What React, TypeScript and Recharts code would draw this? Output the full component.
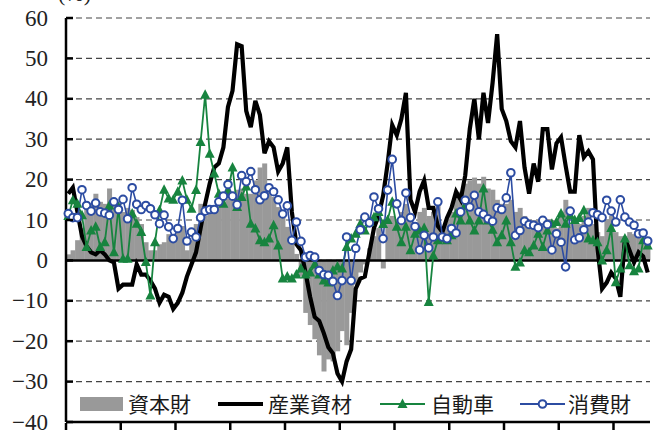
import React from "react";
import {
  ComposedChart,
  Bar,
  Line,
  XAxis,
  YAxis,
  CartesianGrid,
  ReferenceLine,
} from "recharts";

// monthly, 128 points from Jan 07
const yearLabels = ["07", "08", "09", "10", "11", "12", "13", "14", "15", "16", "17"];
const yearTicks = [0, 12, 24, 36, 48, 60, 72, 84, 96, 108, 120];
const yTicks = [-40, -30, -20, -10, 0, 10, 20, 30, 40, 50, 60];

// 資本財
const capitalGoods = [
  1.5, 2.5, 5, 8, 13, 14, 16.5, 14.5, 14, 17.8,
  13.6, 14.5, 12, 13, 12.5, 10.7, 9, 4.5, 2.5, 2.5,
  4, 4.5, 6.5, 6, 8, 8.5, 2.5, 5, 9, 14,
  11, 12.8, 12.8, 14.5, 14.5, 15.3, 16.5, 17.5, 17.8, 16.5,
  16.5, 19.8, 23, 24, 18, 15.7, 13.2, 10.7, 8.3, 5,
  1.6, -4, -13, -16, -19.5, -23.5, -27.5, -24.5, -25, -22.5,
  -17.5, -21, -13, -6, -3, -1, 3, 6, 8, -2,
  9, 11, 10, 12, 14, 10, 9, 12, 13, 11,
  12, 14, 8, 10, 12, 16, 17, 19, 19.8, 20.5,
  19, 20.7, 17.8, 17.5, 15, 14, 14, 15, 12, 13,
  11, 10, 10, 10, 11, 9, 10, 8, 12, 15,
  9, 10, 9, 11, 13, 9, 7, 6, 10, 11,
  7, 6, 6, 7, 6.5, 6, 4, 5,
];

// 産業資材
const industrialMaterials = [
  16.5, 18, 12, 6, 3.5, 2, 1.5, 2.5, 1.5, 0,
  -0.5, -7, -6, -6, -6, -1, -3.5, -3.5, -5, -7,
  -10.5, -8.5, -9, -12, -10.5, -8, -4, -1, 2, 8,
  14, 19, 23, 24, 28, 38, 42, 53.5, 53, 37,
  33, 39.5, 36, 26.5, 29.5, 28, 22, 24, 28, 12,
  4, 2.5, -3, -9, -14, -15, -18, -21.5, -23, -28,
  -30, -25, -22, -7, -4.5, -4, 2, 8, 11, 16,
  24, 33.5, 31, 35, 41.5, 15, 12, 17, 19.8, 13,
  13, 8.5, 7, 10.5, 13, 17, 15, 21, 32.5, 40,
  30, 41.5, 34, 44, 56, 37.5, 34.5, 29.5, 28, 34.5,
  23, 16.5, 24, 19.5, 32.5, 32.5, 22.5, 29, 30.5, 23.5,
  17, 17, 31, 25.5, 27, 25, 3, -7, -5.5, -3,
  -4.5, -9, 5.5, 2.5, -0.5, 2, 1, -3,
];

// 自動車
const automobiles = [
  11, 14.9, 14, 11.2, 3.3, 7.4, 8.3, 3.3, 4.5, 13.6,
  2, 13.2, 0.4, 0.4, 11.6, 9.1, 7, -0.4, -8.7, 4.5,
  12.4, 17.5, 15.3, 15, 17, 19.8, 15, 12.8, 17.4, 29.3,
  41, 26.4, 21.5, 16.5, 14, 17, 23, 13.2, 15.7, 18.3,
  9.1, 7.9, 5, 4.5, 5.4, 8.7, 3.7, -4.5, -4, -4.5,
  -3.5, -2, -3.5, -3, -1, -3.5, -5, -5.5, -2.5, -1.5,
  -2, 3.3, 5.4, 6.6, 9, 7.4, 9.5, 10.7, 12, 9,
  10, 14.5, 8.3, 4.5, 8.3, 2.5, 6.6, 7.4, 8, -10.3,
  1.2, 5, 5.4, 5, 6.2, 11.6, 9.9, 13.6, 9.9, 7.4,
  9.9, 17.8, 9.9, 7.6, 4.5, 6.2, 9.9, 4.5, -1.6, -0.5,
  2.5, 2, 3.7, 6.6, 3.3, 7.4, 9.1, 9.5, 11.6, 9.1,
  11.2, 10, 10.5, 12.4, 5.4, 5, 4.5, 0, 2.5, 8,
  -5.4, -2, 5.4, -1.2, -2.7, -2, 5, 3.7,
];

// 消費財
const consumerGoods = [
  11.6, 10.6, 10.6, 17.5, 13.6, 12.2, 14.2, 12, 11.7, 11.2,
  14.5, 12.6, 15.1, 10.3, 18, 13.9, 12.6, 13.6, 12.8, 11.3,
  9.1, 11.2, 8.3, 5.4, 7.9, 14.9, 4.8, 7, 5.8, 10.6,
  12.2, 12.6, 12.6, 14.5, 15.9, 18.8, 15.9, 13.8, 21, 19.5,
  22, 17.5, 15, 16, 18, 17, 15, 11.5, 13.5, 5,
  9.5, 4.7, 0.8, 1.2, 0.8, -2.5, -3.5, -3.7, -5.2, -8.7,
  -5, 5.8, -5, 3, 7.6, 10.7, 9.3, 15.7, 12.8, 5.4,
  17.4, 25, 14, 9.9, 16.7, 10.6, 8.4, 2.6, 6.2, 3.1,
  5.8, 14.5, 5.8, 5.4, 7.9, 6.8, 12, 14.9, 13.2, 16.1,
  12, 11.4, 10.3, 9.7, 13, 12.6, 15.5, 21.7, 6.2, 7.4,
  9.7, 8.9, 8.7, 8.1, 9.9, 8.9, 2.6, 6.6, 4.5, -1.6,
  12.2, 5.1, 5.6, 7.6, 9.5, 11.8, 11.3, 10.6, 14.9, 12.2,
  9.5, 15, 10.7, 9.5, 8.7, 6.6, 6.8, 4.8,
];

const data = capitalGoods.map((v, i) => ({
  i,
  cap: v,
  mat: industrialMaterials[i],
  auto: automobiles[i],
  cons: consumerGoods[i],
}));

const GRAY = "#999999";
const GREEN = "#17843f";
const BLUE = "#2c4ca2";
const SERIF = "'Liberation Serif', 'DejaVu Serif', serif";
const CJK = "'Noto Sans CJK JP', sans-serif";

const W = 664;
const H = 470;
const margin = { top: 18, right: 14, bottom: 18, left: 6 };
const yAxisW = 60;
const plotLeft = margin.left + yAxisW;
const plotW = W - margin.right - plotLeft;
const band = plotW / data.length;

const YTick = (props: any) => {
  const { y, payload } = props;
  const v = payload.value;
  const label = v < 0 ? "\u2212" + Math.abs(v) : String(v);
  return (
    <g>
      <line x1={plotLeft} x2={plotLeft + 7} y1={y} y2={y} stroke="#000" strokeWidth={2.5} />
      <text x={plotLeft - 18} y={y} textAnchor="end" dominantBaseline="central"
        fontFamily={SERIF} fontSize={23} fill="#222">{label}</text>
    </g>
  );
};

const XTick = (props: any) => {
  const { x, y, payload } = props;
  const left = x - band / 2;
  return (
    <g>
      <line x1={left} x2={left} y1={y} y2={y - 7} stroke="#000" strokeWidth={2.5} />
      <text x={left + 2} y={y + 33} textAnchor="middle" fontFamily={SERIF} fontSize={23} fill="#222">
        {yearLabels[payload.value / 12]}
      </text>
    </g>
  );
};

const Triangle = (props: any) => {
  const { cx, cy, index } = props;
  if (cx == null || cy == null) return <g key={index} />;
  return (
    <path key={index} d={`M${cx},${cy - 5.5} L${cx + 5},${cy + 4} L${cx - 5},${cy + 4} Z`} fill={GREEN} />
  );
};

const legendText: React.CSSProperties = {
  position: "absolute",
  top: 390,
  fontFamily: CJK,
  fontSize: 21,
  lineHeight: "26px",
  color: "#1a1a1a",
};

export default function App() {
  return (
    <div style={{ position: "absolute", left: 0, top: 0, width: W, height: 446, overflow: "hidden", background: "#fff" }}>
      <ComposedChart width={W} height={H} data={data} margin={margin} barCategoryGap={0}>
        <text x={58} y={1} fontFamily={SERIF} fontSize={22} fill="#222">(%)</text>
        <CartesianGrid vertical={false} stroke="#444" strokeDasharray="6 4" strokeWidth={1.2} />
        <XAxis dataKey="i" type="category" ticks={yearTicks} interval={0} height={30}
          axisLine={{ stroke: "#000", strokeWidth: 2.5 }} tickLine={false} tick={<XTick />} />
        <YAxis domain={[-40, 60]} ticks={yTicks} width={yAxisW} allowDataOverflow
          axisLine={{ stroke: "#000", strokeWidth: 2.5 }} tickLine={false} tick={<YTick />} />
        <ReferenceLine y={0} stroke="#000" strokeWidth={2.5} />
        <Bar dataKey="cap" fill={GRAY} isAnimationActive={false} />
        <Line type="linear" dataKey="mat" stroke="#000" strokeWidth={4.2} dot={false} isAnimationActive={false} />
        <Line type="linear" dataKey="auto" stroke={GREEN} strokeWidth={1.8} dot={<Triangle />} isAnimationActive={false} />
        <Line type="linear" dataKey="cons" stroke={BLUE} strokeWidth={1.6}
          dot={{ r: 3.8, fill: "#fff", stroke: BLUE, strokeWidth: 2 }} isAnimationActive={false} />
      </ComposedChart>

      <svg style={{ position: "absolute", left: 0, top: 0 }} width={W} height={446}>
        <rect x={80} y={397} width={43} height={14} fill={GRAY} />
        <line x1={218} x2={263} y1={404} y2={404} stroke="#000" strokeWidth={4.2} />
        <line x1={380} x2={425} y1={404} y2={404} stroke={GREEN} strokeWidth={2} />
        <path d="M402.5,398.5 L407.5,408 L397.5,408 Z" fill={GREEN} />
        <line x1={520} x2={565} y1={404} y2={404} stroke={BLUE} strokeWidth={2} />
        <circle cx={542.5} cy={404} r={3.8} fill="#fff" stroke={BLUE} strokeWidth={2} />
      </svg>
      <span style={{ ...legendText, left: 128 }}>資本財</span>
      <span style={{ ...legendText, left: 268 }}>産業資材</span>
      <span style={{ ...legendText, left: 431 }}>自動車</span>
      <span style={{ ...legendText, left: 568 }}>消費財</span>
    </div>
  );
}
